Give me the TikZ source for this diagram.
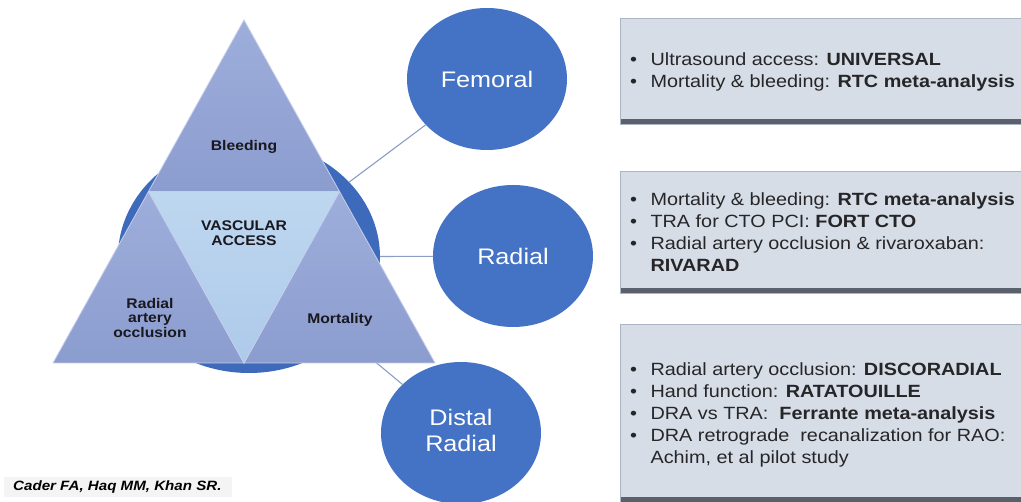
\documentclass[tikz,border=0pt]{standalone}
\usepackage{fontspec}
\usepackage{graphicx}
\setmainfont{Liberation Sans}
\usetikzlibrary{shapes.geometric}

\definecolor{satblue}{RGB}{68,114,196}
\definecolor{hubblue}{RGB}{62,106,188}
\definecolor{facetop}{RGB}{158,174,219}
\definecolor{facebot}{RGB}{139,156,207}
\definecolor{faceedge}{RGB}{196,206,234}
\definecolor{coretop}{RGB}{190,215,240}
\definecolor{corebot}{RGB}{174,202,234}
\definecolor{boxfill}{RGB}{214,221,231}
\definecolor{boxedge}{RGB}{172,181,196}
\definecolor{shadetop}{RGB}{150,156,168}
\definecolor{shadebot}{RGB}{88,94,106}
\definecolor{linkgray}{RGB}{140,158,196}
\definecolor{noteink}{RGB}{38,38,40}
\definecolor{labelink}{RGB}{24,24,30}
\definecolor{citeband}{RGB}{244,244,244}

% slightly widened lettering
\newcommand\wide[1]{\scalebox{1.12}[1]{#1}}

\begin{document}
\begin{tikzpicture}[x=1pt,y=-1pt,
  hubdisc/.style={ellipse, fill=hubblue, minimum width=262, minimum height=232, inner sep=0, outer sep=0},
  site/.style={ellipse, fill=satblue, minimum width=160, minimum height=142, inner sep=0, outer sep=0,
    text=white, font=\fontsize{22.5}{26}\selectfont},
  link/.style={draw=linkgray, line width=1.1pt},
  face/.style={draw=faceedge, line width=0.8pt, top color=facetop, bottom color=facebot},
  core/.style={draw=faceedge, line width=0.8pt, top color=coretop, bottom color=corebot},
  facelabel/.style={inner sep=0, text=labelink, font=\fontsize{14}{14.5}\bfseries\selectfont},
  notebox/.style={anchor=north west, fill=boxfill, draw=boxedge, line width=0.6pt, inner sep=0,
    minimum width=405,
    path picture={\shade[top color=shadetop, bottom color=shadebot]
      ([yshift=5pt]path picture bounding box.south west) rectangle (path picture bounding box.south east);}},
  notetext/.style={anchor=base west, inner sep=0, text=noteink, font=\fontsize{17.7}{22}\selectfont},
]
\clip (0,0) rectangle (1021,502);
\fill[white] (0,0) rectangle (1021,502);

% hub disc behind the triangle
\node[hubdisc] (hub) at (249,257) {};

% access sites
\node[site] (fem) at (487,79) {\wide{Femoral}};
\node[site] (rad) at (513,256) {\wide{Radial}};
\node[site] (dist) at (461,433) {\wide{\begin{tabular}{@{}c@{}}Distal\\Radial\end{tabular}}};

% connectors from the hub to each site
\draw[link] (hub) -- (fem);
\draw[link] (hub) -- (rad);
\draw[link] (hub) -- (dist);

% triangle corners and edge midpoints
\coordinate (apex) at (244,20);
\coordinate (bl) at (53,363);
\coordinate (br) at (435,363);
\coordinate (ml) at (148.5,191.5);
\coordinate (mr) at (339.5,191.5);
\coordinate (mb) at (244,363);

% four faces of the triangle
\path[face] (apex) -- (mr) -- (ml) -- cycle;
\path[face] (ml) -- (mb) -- (bl) -- cycle;
\path[face] (mr) -- (br) -- (mb) -- cycle;
\path[core] (ml) -- (mr) -- (mb) -- cycle;

\node[facelabel] (bleed) at (244,147) {\wide{Bleeding}};
\node[facelabel] (vasc) at (244,235) {\wide{\begin{tabular}{@{}c@{}}VASCULAR\\ACCESS\end{tabular}}};
\node[facelabel] (rao) at (150,320) {\wide{\begin{tabular}{@{}c@{}}Radial\\artery\\occlusion\end{tabular}}};
\node[facelabel] (mort) at (340,320) {\wide{Mortality}};

% evidence boxes
\node[notebox, minimum height=106] (femnote) at (620,18) {};
\node[notebox, minimum height=122] (radnote) at (620,171) {};
\node[notebox, minimum height=178] (distnote) at (620,324) {};

\node[notetext] (femtext) at (630,65.5) {\wide{\begin{tabular}[t]{@{}l@{\hspace{12pt}}l@{}}
\textbullet & Ultrasound access: \textbf{UNIVERSAL}\\
\textbullet & Mortality \& bleeding: \textbf{RTC meta-analysis}
\end{tabular}}};

\node[notetext] (radtext) at (630,205.5) {\wide{\begin{tabular}[t]{@{}l@{\hspace{12pt}}l@{}}
\textbullet & Mortality \& bleeding: \textbf{RTC meta-analysis}\\
\textbullet & TRA for CTO PCI: \textbf{FORT CTO}\\
\textbullet & Radial artery occlusion \& rivaroxaban:\\
 & \textbf{RIVARAD}
\end{tabular}}};

\node[notetext] (disttext) at (630,375.5) {\wide{\begin{tabular}[t]{@{}l@{\hspace{12pt}}l@{}}
\textbullet & Radial artery occlusion: \textbf{DISCORADIAL}\\
\textbullet & Hand function: \textbf{RATATOUILLE}\\
\textbullet & DRA vs TRA:\ \ \textbf{Ferrante meta-analysis}\\
\textbullet & DRA retrograde\ \ recanalization for RAO:\\
 & Achim, et al pilot study
\end{tabular}}};

% source line
\fill[citeband] (4,477) rectangle (232,497);
\node[anchor=base west, inner sep=0, font=\fontsize{13.5}{16}\bfseries\itshape\selectfont] (cite) at (13,491)
  {\wide{Cader FA, Haq MM, Khan SR.}};
\end{tikzpicture}
\end{document}
